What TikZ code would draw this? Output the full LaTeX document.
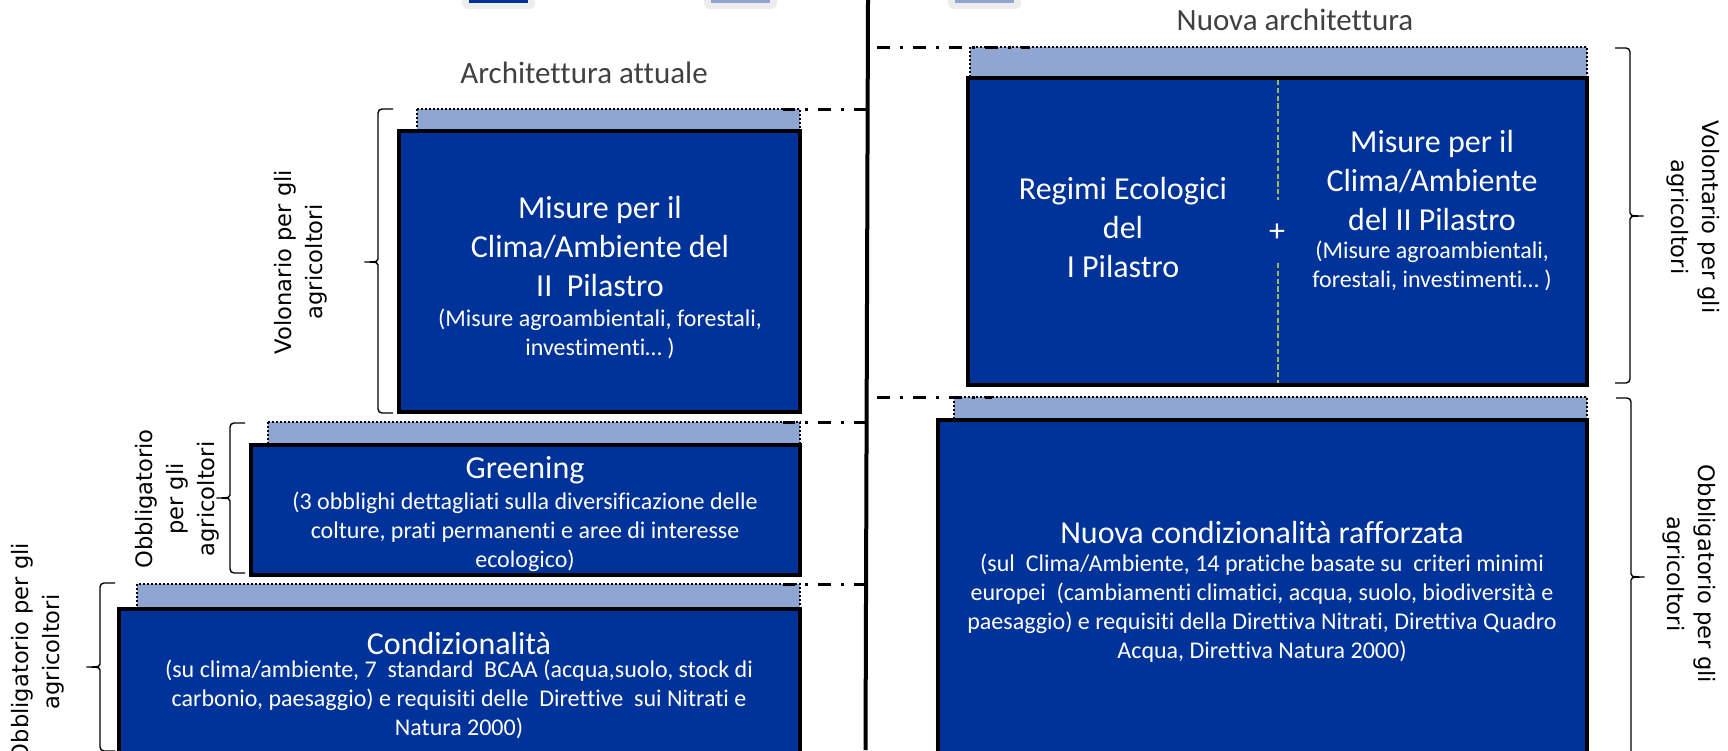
\documentclass[tikz,border=0pt]{standalone}
\usepackage{fontspec}
\setmainfont{Carlito}[Ligatures=NoCommon]
\newfontfamily\sidefont{DejaVu Sans}
\usepackage{xcolor}
\usepackage{tikz}
\definecolor{boxblue}{HTML}{003399}
\definecolor{striplight}{HTML}{8FA6D3}
\definecolor{headgray}{HTML}{404040}
\definecolor{divgreen}{HTML}{9BBB59}
\tikzset{
  mainbox/.style={fill=boxblue, draw=black, line width=2.2pt},
  strip/.style={fill=striplight, draw=black, line width=1.2pt, dash pattern=on 1.1pt off 0.9pt},
  spine/.style={draw=black, line width=2pt},
  dashdot/.style={draw=black, line width=1.5pt, dash pattern=on 6.5pt off 5pt on 1.5pt off 5pt},
  divider/.style={draw=divgreen, line width=0.9pt, dash pattern=on 2.6pt off 1.3pt},
  bracket/.style={draw=black, line width=0.7pt, rounded corners=2pt},
  bigtxt/.style={text=white, font=\fontsize{16}{19.5}\selectfont, align=center, inner sep=0pt},
  smalltxt/.style={text=white, font=\fontsize{12}{14.5}\selectfont, align=center, inner sep=0pt},
  headtxt/.style={text=headgray, font=\fontsize{15.5}{19}\selectfont, inner sep=0pt},
  sidetxt/.style={font=\sidefont\fontsize{11.3}{15.5}\selectfont, align=center, inner sep=0pt}
}
% #1 line x, #2 hook x, #3 tip x, #4 top y, #5 bottom y, #6 tip y
\newcommand{\sidebrace}[6]{%
  \draw[bracket] (#2,#4) -- (#1,#4) -- (#1,#6-7)
    .. controls (#1,#6-1) and (#1,#6) .. (#3,#6)
    .. controls (#1,#6) and (#1,#6+1) .. (#1,#6+7) -- (#1,#5) -- (#2,#5);
}

\begin{document}
\begin{tikzpicture}[x=0.5pt, y=-0.5pt]
  \useasboundingbox (0,0) rectangle (1728,750);
  \clip (0,0) rectangle (1728,750);

  % icons cut by the top edge
  \foreach \xa/\clr in {469/boxblue, 711/striplight, 955/striplight} {
    \fill[black!7, rounded corners=3pt] (\xa-7,-6) rectangle (\xa+66,9);
    \fill[fill=\clr] (\xa,-6) rectangle (\xa+59,2.5);
  }

  \coordinate (top) at (868,0);
  \coordinate (bot) at (865.5,750);
  \draw[spine] (top) -- (bot);

  \node[headtxt] (oldhead) at (584,73) {Architettura attuale};
  \node[headtxt] (newhead) at (1295,20) {Nuova architettura};

  % current architecture
  \draw[strip] (417,109) rectangle (800,131);
  \draw[mainbox] (399,131) rectangle (800,412);
  \draw[strip] (268,422) rectangle (800,445);
  \draw[mainbox] (251,445) rectangle (800,575);
  \draw[strip] (137,584) rectangle (800,609);
  \draw[mainbox] (119,609) rectangle (800,775);

  \node[bigtxt] (pil2) at (600,247) {Misure per il\\Clima/Ambiente del\\II~~Pilastro};
  \node[smalltxt] (pil2sub) at (600,334) {(Misure agroambientali, forestali,\\investimenti… )};
  \node[bigtxt] (green) at (525,470) {Greening};
  \node[smalltxt] (greensub) at (525,532) {(3 obblighi dettagliati sulla diversificazione delle\\colture, prati permanenti e aree di interesse\\ecologico)};
  \node[bigtxt] (cond) at (459,643) {Condizionalità};
  \node[smalltxt] (condsub) at (459,699) {(su clima/ambiente, 7~~standard~~BCAA (acqua,suolo, stock di\\carbonio, paesaggio) e requisiti delle~~Direttive~~sui Nitrati e\\Natura 2000)};

  % new architecture
  \draw[strip] (970,47) rectangle (1587,78);
  \draw[mainbox] (968,78) rectangle (1587,385);
  \draw[strip] (954,397) rectangle (1587,420);
  \draw[mainbox] (938,420) rectangle (1587,775);

  \coordinate (div1) at (1278,80);
  \coordinate (div2) at (1278,200);
  \coordinate (div3) at (1278,263);
  \coordinate (div4) at (1278,383);
  \draw[divider] (div1) -- (div2);
  \draw[divider] (div3) -- (div4);

  \node[bigtxt] (eco) at (1123,228) {Regimi Ecologici\\del\\I Pilastro};
  \node[bigtxt] (plus) at (1277,233) {+};
  \node[bigtxt] (pil2new) at (1432,181) {Misure per il\\Clima/Ambiente\\del II Pilastro};
  \node[smalltxt] (pil2newsub) at (1432,266) {(Misure agroambientali,\\forestali, investimenti… )};
  \node[bigtxt] (newcond) at (1262,532) {Nuova condizionalità rafforzata};
  \node[smalltxt] (newcondsub) at (1262,608) {(sul~~Clima/Ambiente, 14 pratiche basate su~~criteri minimi\\europei~~(cambiamenti climatici, acqua, suolo, biodiversità e\\paesaggio) e requisiti della Direttiva Nitrati, Direttiva Quadro\\Acqua, Direttiva Natura 2000)};

  % level lines to the spine
  \foreach \yy/\xe in {109/783, 422/783, 584/783} {
    \draw[dashdot] (867,\yy) -- (\xe,\yy);
  }
  \foreach \yy/\xe in {47/1030, 397/992} {
    \draw[dashdot, dash phase=13pt] (867,\yy) -- (\xe,\yy);
  }

  % braces and labels
  \sidebrace{378}{393}{362}{109}{413}{262}
  \sidebrace{230}{245}{214}{423}{573}{498}
  \sidebrace{100}{115}{84}{583}{751}{667}
  \sidebrace{1630}{1615}{1646}{48}{383}{216}
  \sidebrace{1631}{1616}{1647}{398}{756}{577}

  \node[sidetxt, rotate=90] (vol1) at (301,262) {Volonario per gli\\agricoltori};
  \node[sidetxt, rotate=90] (obb1) at (177,499) {Obbligatorio\\per gli\\agricoltori};
  \node[sidetxt, rotate=90] (obb2) at (38,652) {Obbligatorio per gli\\agricoltori};
  \node[sidetxt, rotate=-90] (vol2) at (1693,217) {Volontario per gli\\agricoltori};
  \node[sidetxt, rotate=-90] (obb3) at (1689,574) {Obbligatorio per gli\\agricoltori};
\end{tikzpicture}
\end{document}
